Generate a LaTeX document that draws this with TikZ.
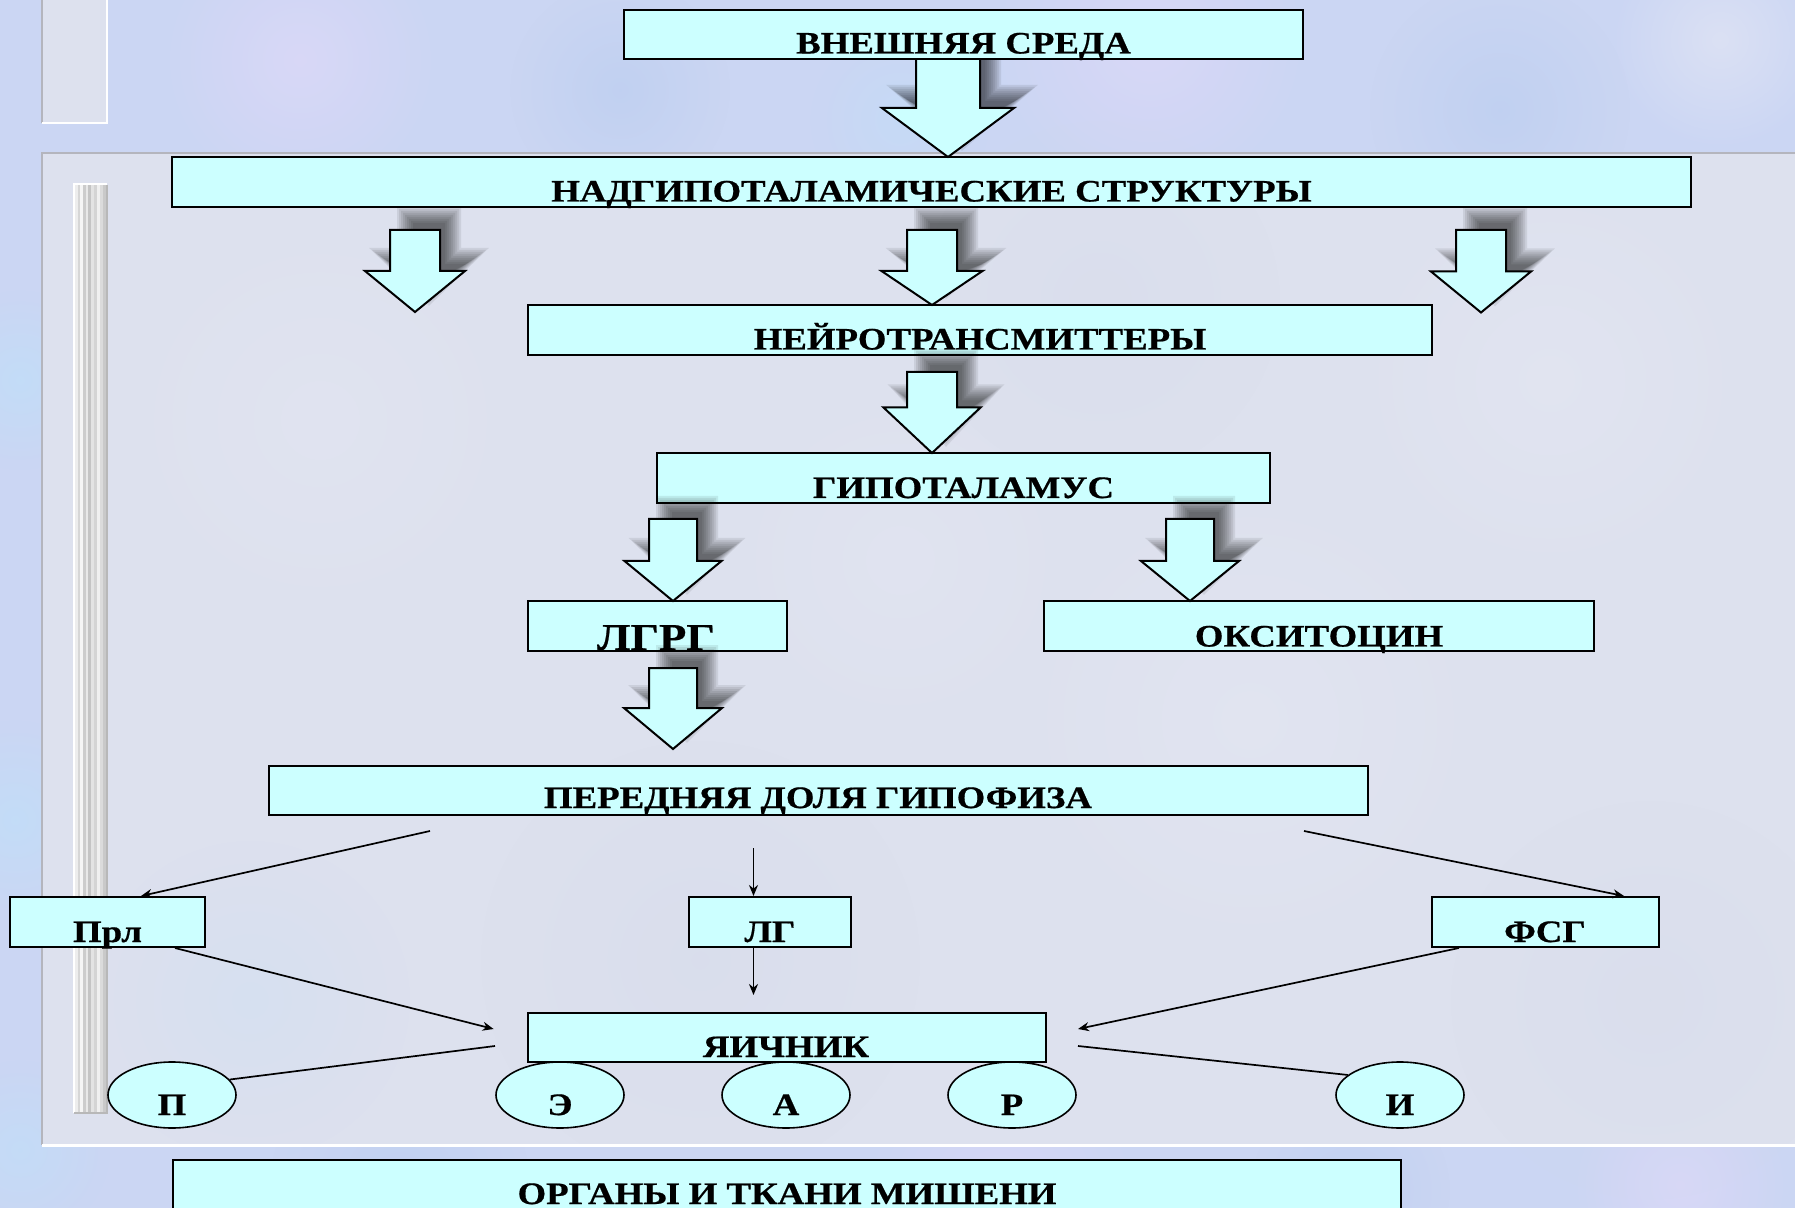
\documentclass[tikz,border=0pt]{standalone}
\usepackage{fontspec}
\setmainfont{Liberation Serif}[FakeStretch=1.18, BoldFeatures={FakeBold=0.6}]
\usetikzlibrary{arrows.meta,shapes.geometric,fadings}

\definecolor{boxfill}{HTML}{CCFFFF}
\definecolor{skyback}{HTML}{CBD6F3}
\definecolor{panelback}{HTML}{DDE1EE}
\definecolor{panelrim}{HTML}{B4B5BD}
\definecolor{lilac}{HTML}{DCD8F8}
\definecolor{deepsky}{HTML}{BACDF0}
\definecolor{palesky}{HTML}{C2DDF8}
\definecolor{mist}{HTML}{E6E8F4}
\definecolor{dusk}{HTML}{D3D8EA}

\tikzfading[name=softblob, inner color=transparent!0, outer color=transparent!100]

% outline of a block arrow pointing down; the last argument grows or shrinks it
\newcommand\arrowpath[7]{%
  ({#1-#5-(#7)},{#2-(#7)}) -- ({#1+#5+(#7)},{#2-(#7)}) --
  ({#1+#5+(#7)},{#3-(#7)}) -- ({#1+#6+1.4*(#7)},{#3-(#7)}) --
  (#1,{#4+1.4*(#7)}) --
  ({#1-#6-1.4*(#7)},{#3-(#7)}) -- ({#1-#5-(#7)},{#3-(#7)}) -- cycle}
% soft drop shadow, built from stacked translucent copies
\newcommand\arrowshadow[6]{%
  \begin{scope}[shift={(14,-16)}]
    \foreach \d in {7,5,3,1,-1,-3,-5,-7,-9}
      {\fill[black, opacity=0.08] \arrowpath{#1}{#2}{#3}{#4}{#5}{#6}{\d};}
  \end{scope}}
\newcommand\blockarrow[6]{%
  \filldraw[fill=boxfill, draw=black, line width=1pt, line join=miter]
    \arrowpath{#1}{#2}{#3}{#4}{#5}{#6}{0};}

\begin{document}
\begin{tikzpicture}[x=0.5pt, y=-0.5pt,
  box/.style={draw=black, line width=1pt, fill=boxfill, inner sep=0pt},
  lbl/.style={font=\fontsize{15.6pt}{18pt}\selectfont\bfseries, inner sep=0pt, anchor=base},
  biglbl/.style={font=\fontsize{19pt}{22pt}\selectfont\bfseries, inner sep=0pt, anchor=base},
  oval/.style={ellipse, draw=black, line width=0.8pt, fill=boxfill,
    minimum width=64pt, minimum height=33pt, inner sep=0pt},
  thinarrow/.style={line width=0.85pt, -{Stealth[length=5.5pt, width=4.5pt]}},
  thinline/.style={line width=0.85pt},
  blob/.style={path fading=softblob}]

\useasboundingbox (0,0) rectangle (1795,1208);
\clip (0,0) rectangle (1795,1208);

% mottled backdrop
\fill[skyback] (0,0) rectangle (1795,1208);
\foreach \x/\y/\r/\c/\o in {
  300/60/140/lilac/0.8, 620/90/110/deepsky/0.6, 1150/40/160/lilac/0.8,
  1500/110/130/deepsky/0.6, 1720/40/110/mist/0.6, 900/120/90/palesky/0.6,
  20/380/90/palesky/0.9, 15/820/100/palesky/0.9, 20/1150/90/palesky/0.8,
  400/1185/130/deepsky/0.6, 1000/1195/140/lilac/0.7, 1680/1185/110/lilac/0.8,
  1350/1190/100/deepsky/0.6}
  {\fill[\c, blob, opacity=\o] (\x,\y) circle (\r);}

% small frame in the upper left corner
\fill[panelback] (42,-2) rectangle (107,123);
\draw[panelrim, line width=1pt] (42,-2) -- (42,123);
\draw[white, line width=1.2pt] (107,-2) -- (107,123) -- (42,123);

% main frame
\fill[panelback] (42,153) rectangle (1800,1145);
\foreach \x/\y/\r/\c/\o in {
  320/420/230/mist/0.4, 1250/720/260/mist/0.5, 700/960/220/dusk/0.35,
  1550/380/220/mist/0.5, 1650/1000/200/dusk/0.3, 900/560/200/mist/0.4,
  250/1000/160/palesky/0.25, 1100/300/180/dusk/0.3}
  {\fill[\c, blob, opacity=\o] (\x,\y) circle (\r);}
\draw[panelrim, line width=1pt] (42,1145) -- (42,153) -- (1800,153);
\draw[white, line width=1.5pt] (42,1145) -- (1800,1145);

% brushed metal bar
\foreach \x/\g in {75/93, 78/84, 80/96, 83/80, 86/91, 88/77, 91/89, 94/83, 97/94, 100/86, 103/79}
  {\fill[white!\g!black] (\x,185) rectangle (\x+3,1113);}
\draw[white, line width=1.2pt] (74,1113) -- (74,184) -- (107,184);
\draw[white!72!black, line width=1pt] (107,185) -- (107,1113) -- (74,1113);

% boxes
\node[box, minimum width=759.5pt, minimum height=25pt] (nadg) at (931.5,182) {};
\node[lbl] (nadgT) at (931.5,201.5) {НАДГИПОТАЛАМИЧЕСКИЕ СТРУКТУРЫ};
\node[box, minimum width=452pt, minimum height=25pt] (neyro) at (980,330) {};
\node[lbl] (neyroT) at (980,349.5) {НЕЙРОТРАНСМИТТЕРЫ};
\node[box, minimum width=306.5pt, minimum height=25pt] (gipo) at (963.5,478) {};
\node[lbl] (gipoT) at (963.5,498) {ГИПОТАЛАМУС};
\node[box, minimum width=129.5pt, minimum height=25pt] (lgrg) at (657.5,626) {};
\node[biglbl] (lgrgT) at (656,650) {ЛГРГ};
\node[box, minimum width=275pt, minimum height=25pt] (oksi) at (1319,626) {};
\node[lbl] (oksiT) at (1319,646.5) {ОКСИТОЦИН};
\node[box, minimum width=549.5pt, minimum height=24.5pt] (ped) at (818.5,790.5) {};
\node[lbl] (pedT) at (818,808) {ПЕРЕДНЯЯ ДОЛЯ ГИПОФИЗА};
\node[box, minimum width=97.5pt, minimum height=25pt] (prl) at (107.5,922) {};
\node[lbl] (prlT) at (107.5,942) {Прл};
\node[box, minimum width=81pt, minimum height=25pt] (lg) at (770,922) {};
\node[lbl] (lgT) at (770,942) {ЛГ};
\node[box, minimum width=113.5pt, minimum height=25pt] (fsg) at (1545.5,922) {};
\node[lbl] (fsgT) at (1545,942) {ФСГ};
\node[box, minimum width=259pt, minimum height=24.5pt] (ovary) at (787,1037.5) {};
\node[lbl] (ovaryT) at (786,1057) {ЯИЧНИК};
\node[box, minimum width=614pt, minimum height=35pt] (org) at (787,1195) {};
\node[lbl] (orgT) at (787,1204) {ОРГАНЫ И ТКАНИ МИШЕНИ};

% block arrows: shadows first, then the arrows
\arrowshadow{948}{59}{108}{157}{32}{66}
\arrowshadow{415}{230}{271}{312}{25}{50}
\arrowshadow{932}{230}{271}{305}{25}{50.5}
\arrowshadow{1481}{230}{271.5}{312.5}{25}{50}
\arrowshadow{932}{372}{407.5}{453}{25}{48.5}
\arrowshadow{673}{519}{561}{601}{24}{48.5}
\arrowshadow{1190}{519}{561}{601}{24}{49}
\arrowshadow{673}{668}{708}{749}{24}{49}

\blockarrow{948}{59}{108}{157}{32}{66}
\blockarrow{415}{230}{271}{312}{25}{50}
\blockarrow{932}{230}{271}{305}{25}{50.5}
\blockarrow{1481}{230}{271.5}{312.5}{25}{50}
\blockarrow{932}{372}{407.5}{453}{25}{48.5}
\blockarrow{673}{519}{561}{601}{24}{48.5}
\blockarrow{1190}{519}{561}{601}{24}{49}
\blockarrow{673}{668}{708}{749}{24}{49}

% top box
\node[box, minimum width=339.5pt, minimum height=24.5pt] (ext) at (963.5,34.5) {};
\node[lbl] (extT) at (963.5,53.5) {ВНЕШНЯЯ СРЕДА};

% hormone arrows
\coordinate (pedL) at (430,831);
\coordinate (pedM) at (753.5,848);
\coordinate (pedR) at (1304,831);
\draw[thinarrow] (pedL) -- ([xshift=16.75pt]prl.north);
\draw[thinarrow] (pedM) -- ([xshift=-8.25pt]lg.north);
\draw[thinarrow] (pedR) -- ([xshift=39.25pt]fsg.north);

\coordinate (ovL) at (493.6,1029);
\coordinate (ovM) at (753.5,995);
\coordinate (ovR) at (1078,1029);
\draw[thinarrow] ([xshift=33.75pt]prl.south) -- (ovL);
\draw[thinarrow] ([xshift=-8.25pt]lg.south) -- (ovM);
\draw[thinarrow] ([xshift=-43.25pt]fsg.south) -- (ovR);

% ovarian hormones
\node[oval] (eP) at (172,1095) {};
\node[lbl] (ePT) at (172,1115) {П};
\node[oval] (eE) at (560,1095) {};
\node[lbl] (eET) at (560,1115) {Э};
\node[oval] (eA) at (786,1095) {};
\node[lbl] (eAT) at (786,1115) {А};
\node[oval] (eR) at (1012,1095) {};
\node[lbl] (eRT) at (1012,1115) {Р};
\node[oval] (eI) at (1400,1095) {};
\node[lbl] (eIT) at (1400,1115) {И};

\coordinate (ovL2) at (495,1046);
\coordinate (ovR2) at (1078,1046);
\draw[thinline] (ovL2) -- (eP.15);
\draw[thinline] (ovR2) -- (eI.159);
\end{tikzpicture}
\end{document}
